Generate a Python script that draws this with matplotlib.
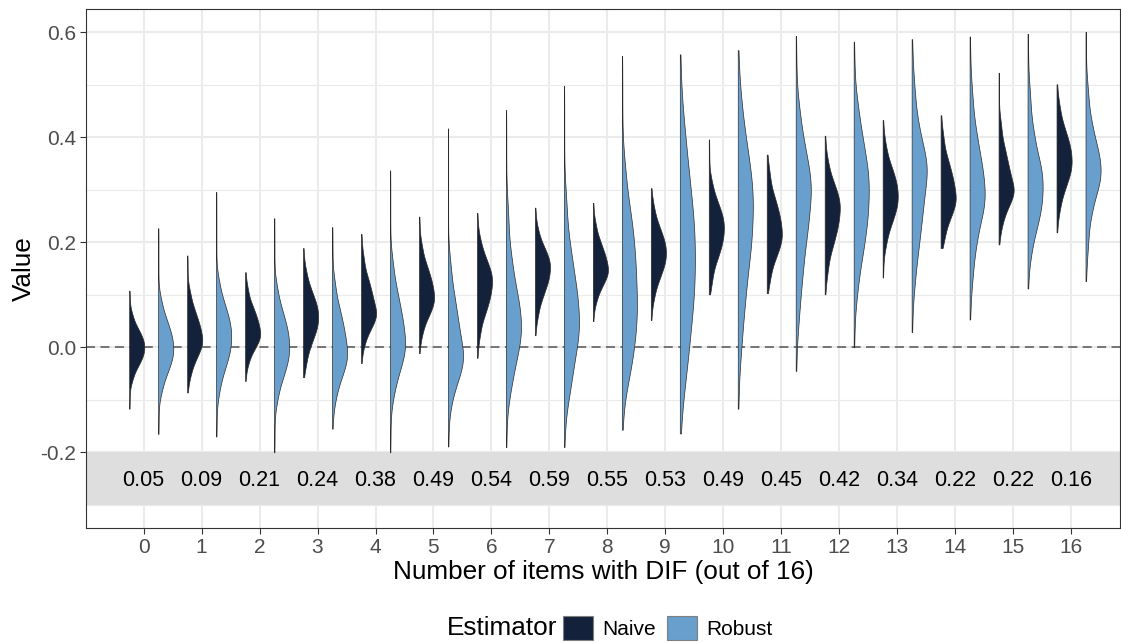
import numpy as np
import matplotlib
matplotlib.use("Agg")
import matplotlib.pyplot as plt
from matplotlib.patches import Patch

plt.rcParams['font.family'] = ['Liberation Sans', 'DejaVu Sans']
plt.rcParams['axes.unicode_minus'] = False

# ---------------- data ----------------
items = list(range(17))
band_values = [0.05, 0.09, 0.21, 0.24, 0.38, 0.49, 0.54, 0.59, 0.55,
               0.53, 0.49, 0.45, 0.42, 0.34, 0.22, 0.22, 0.16]

# estimated quantiles of each distribution at these probabilities
probs = [0.0, 0.02, 0.10, 0.25, 0.50, 0.75, 0.90, 0.98, 1.0]

naive_q = [
    [-0.117, -0.068, -0.042, -0.022, 0.000, 0.022, 0.042, 0.068, 0.108],
    [-0.086, -0.058, -0.029, -0.005, 0.020, 0.050, 0.078, 0.112, 0.175],
    [-0.064, -0.035, -0.009, 0.011, 0.033, 0.060, 0.084, 0.115, 0.143],
    [-0.057, -0.034, 0.000, 0.028, 0.058, 0.088, 0.116, 0.150, 0.189],
    [-0.030, 0.001, 0.029, 0.051, 0.075, 0.109, 0.139, 0.178, 0.216],
    [-0.011, 0.021, 0.052, 0.076, 0.103, 0.135, 0.164, 0.201, 0.249],
    [-0.020, 0.017, 0.056, 0.086, 0.120, 0.150, 0.178, 0.212, 0.256],
    [0.023, 0.055, 0.089, 0.117, 0.147, 0.174, 0.198, 0.229, 0.266],
    [0.050, 0.082, 0.109, 0.131, 0.154, 0.182, 0.208, 0.240, 0.275],
    [0.052, 0.088, 0.122, 0.150, 0.180, 0.210, 0.238, 0.272, 0.303],
    [0.101, 0.121, 0.160, 0.190, 0.224, 0.256, 0.285, 0.322, 0.396],
    [0.103, 0.126, 0.163, 0.192, 0.224, 0.261, 0.294, 0.337, 0.367],
    [0.101, 0.138, 0.183, 0.218, 0.257, 0.291, 0.321, 0.360, 0.403],
    [0.133, 0.186, 0.225, 0.256, 0.289, 0.323, 0.353, 0.392, 0.433],
    [0.189, 0.202, 0.236, 0.264, 0.294, 0.331, 0.364, 0.407, 0.442],
    [0.196, 0.227, 0.259, 0.285, 0.310, 0.350, 0.387, 0.436, 0.523],
    [0.219, 0.256, 0.294, 0.325, 0.358, 0.393, 0.425, 0.465, 0.501],
]

robust_q = [
    [-0.165, -0.092, -0.058, -0.030, 0.000, 0.032, 0.061, 0.098, 0.227],
    [-0.170, -0.093, -0.050, -0.017, 0.020, 0.057, 0.090, 0.133, 0.296],
    [-0.200, -0.109, -0.066, -0.033, 0.004, 0.043, 0.078, 0.123, 0.246],
    [-0.155, -0.107, -0.067, -0.035, 0.000, 0.044, 0.083, 0.133, 0.229],
    [-0.200, -0.103, -0.057, -0.020, 0.020, 0.070, 0.116, 0.174, 0.337],
    [-0.189, -0.113, -0.070, -0.037, 0.000, 0.057, 0.109, 0.174, 0.417],
    [-0.190, -0.100, -0.050, 0.000, 0.050, 0.110, 0.180, 0.280, 0.452],
    [-0.190, -0.110, -0.060, 0.000, 0.060, 0.130, 0.200, 0.300, 0.498],
    [-0.157, -0.080, -0.030, 0.030, 0.110, 0.200, 0.270, 0.360, 0.555],
    [-0.164, -0.090, -0.015, 0.070, 0.170, 0.270, 0.360, 0.450, 0.558],
    [-0.117, -0.020, 0.070, 0.160, 0.250, 0.330, 0.400, 0.480, 0.566],
    [-0.045, 0.040, 0.120, 0.200, 0.280, 0.340, 0.400, 0.470, 0.593],
    [0.000, 0.090, 0.160, 0.220, 0.290, 0.355, 0.415, 0.480, 0.582],
    [0.029, 0.110, 0.180, 0.245, 0.320, 0.370, 0.430, 0.510, 0.587],
    [0.053, 0.120, 0.190, 0.250, 0.300, 0.360, 0.420, 0.500, 0.592],
    [0.112, 0.170, 0.220, 0.260, 0.310, 0.360, 0.420, 0.500, 0.597],
    [0.126, 0.180, 0.250, 0.300, 0.340, 0.385, 0.435, 0.505, 0.601],
]

series_names = ['Naive', 'Robust']
series_colors = ['#14213A', '#689FCD']

# ---------------- figure ----------------
W, H = 1121, 642
fig = plt.figure(figsize=(W / 100, H / 100), dpi=100)
ax = fig.add_axes([86 / W, 1 - 528 / H, (1120 - 86) / W, (528 - 9) / H])

grid_c = '#EBEBEB'
ax.set_axisbelow(True)
ax.set_yticks([-0.2, 0.0, 0.2, 0.4, 0.6])
ax.set_yticklabels(['-0.2', '0.0', '0.2', '0.4', '0.6'])
ax.set_yticks([-0.3, -0.1, 0.1, 0.3, 0.5], minor=True)
ax.set_xticks(items)
ax.set_xticklabels([str(i) for i in items])
ax.grid(which='major', color=grid_c, lw=1.5)
ax.grid(which='minor', axis='y', color=grid_c, lw=0.8)
ax.tick_params(axis='y', which='minor', length=0)

# gray annotation band
ax.axhspan(-0.3, -0.2, color='#DEDEDE', lw=0, zorder=1.5)
for xi, v in zip(items, band_values):
    ax.text(xi, -0.253, f'{v:.2f}', ha='center', va='center',
            fontsize=15.5, color='black', zorder=3)

# dashed reference line
ax.axhline(0, color='#6B6B6B', lw=1.3, ls=(0, (5, 3)), zorder=2)

# half violins
grid_p = np.linspace(0, 1, 401)
offsets = [-0.25, 0.25]
for qs, off, col in zip([naive_q, robust_q], offsets, series_colors):
    data = [np.interp(grid_p, probs, q) for q in qs]
    pos = [i + off for i in items]
    parts = ax.violinplot(data, positions=pos, widths=0.52, showmeans=False,
                          showextrema=False, showmedians=False, points=300,
                          bw_method=0.33)
    for body, c in zip(parts['bodies'], pos):
        v = body.get_paths()[0].vertices
        v[:, 0] = np.clip(v[:, 0], c, np.inf)
        body.set_facecolor(col)
        body.set_edgecolor('#2B2B2B')
        body.set_linewidth(0.5)
        body.set_alpha(1)
        body.set_zorder(2.5)

ax.set_xlim(-0.995, 16.845)
ax.set_ylim(-0.3442, 0.6444)

for s in ax.spines.values():
    s.set_color('#333333')
    s.set_linewidth(0.8)
ax.tick_params(axis='both', which='major', colors='#333333', length=4,
               width=0.8, labelsize=15, labelcolor='#4D4D4D', pad=3)

ax.set_xlabel('Number of items with DIF (out of 16)', fontsize=18.8,
              color='black', labelpad=2)
ax.set_ylabel('Value', fontsize=18.8, color='black', labelpad=3)

# legend at bottom
handles = [Patch(facecolor=c, edgecolor='#7F7F7F', lw=0.8) for c in series_colors]
fig.text(447 / W, 1 - 628 / H, 'Estimator', ha='left', va='center', fontsize=18.8)
fig.legend(handles, series_names, ncol=2, loc='center left',
           bbox_to_anchor=(563 / W, 1 - 628 / H), frameon=False, fontsize=15,
           handlelength=1.45, handleheight=1.45, handletextpad=0.45,
           columnspacing=0.5, borderpad=0, borderaxespad=0)

fig.savefig('out.png', dpi=100)
